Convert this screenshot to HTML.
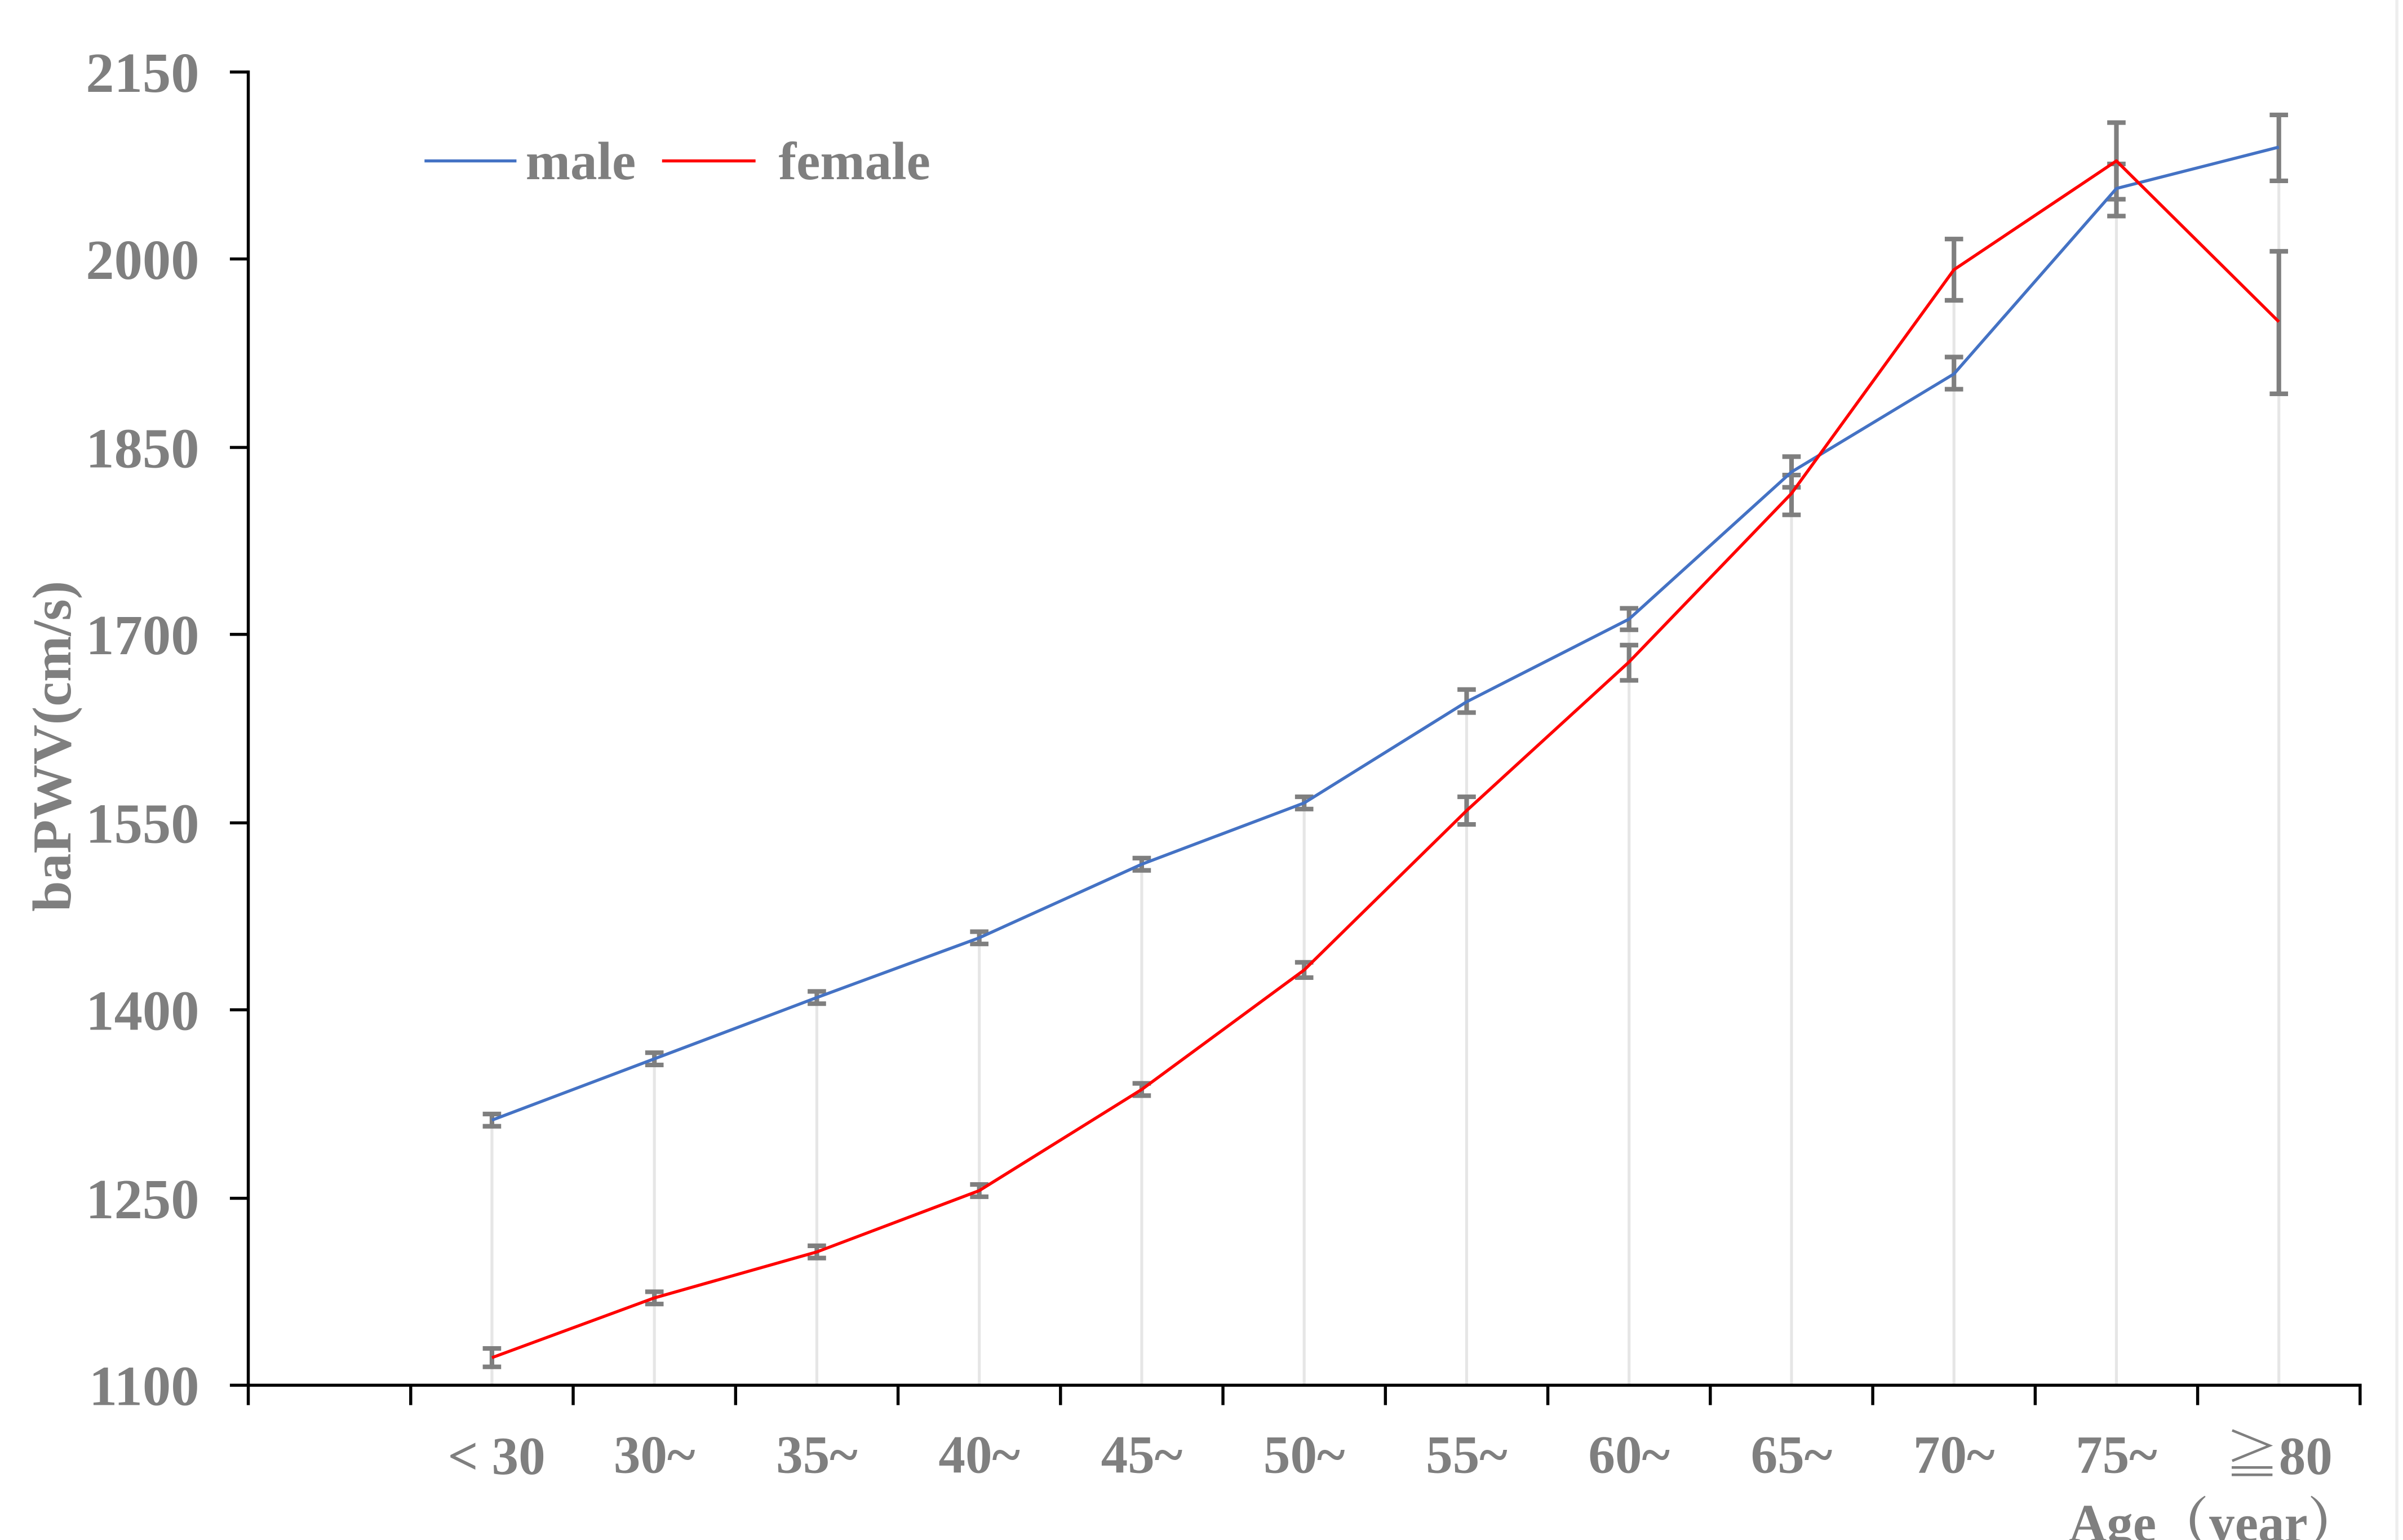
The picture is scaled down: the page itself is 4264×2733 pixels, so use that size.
<!DOCTYPE html>
<html><head><meta charset="utf-8"><style>html,body{margin:0;padding:0;background:#fff}svg{display:block}</style></head>
<body>
<svg xmlns="http://www.w3.org/2000/svg" width="4264" height="2733" viewBox="0 0 1568 1005">
<rect width="1568" height="1005" fill="#fff"/>
<line x1="1564" y1="0" x2="1564" y2="1005" stroke="#eeeeee" stroke-width="2"/>
<g stroke="#e6e6e6" stroke-width="1.9">
<line x1="321" y1="731" x2="321" y2="904"/>
<line x1="427" y1="691" x2="427" y2="904"/>
<line x1="533" y1="651" x2="533" y2="904"/>
<line x1="639" y1="612" x2="639" y2="904"/>
<line x1="745" y1="564" x2="745" y2="904"/>
<line x1="851" y1="524" x2="851" y2="904"/>
<line x1="957" y1="458" x2="957" y2="904"/>
<line x1="1063" y1="404" x2="1063" y2="904"/>
<line x1="1169" y1="308" x2="1169" y2="904"/>
<line x1="1275" y1="176" x2="1275" y2="904"/>
<line x1="1381" y1="105" x2="1381" y2="904"/>
<line x1="1487" y1="96" x2="1487" y2="904"/>
</g>
<g stroke="#7f7f7f" stroke-width="3" fill="none">
<path d="M321 727V735M315 727H327M315 735H327"/>
<path d="M427 687V695M421 687H433M421 695H433"/>
<path d="M533 647V655M527 647H539M527 655H539"/>
<path d="M639 608V616M633 608H645M633 616H645"/>
<path d="M745 560V568M739 560H751M739 568H751"/>
<path d="M851 520V528M845 520H857M845 528H857"/>
<path d="M957 450V465M951 450H963M951 465H963"/>
<path d="M1063 397V411M1057 397H1069M1057 411H1069"/>
<path d="M1169 298V318M1163 298H1175M1163 318H1175"/>
<path d="M1275 233V254M1269 233H1281M1269 254H1281"/>
<path d="M1381 107V141M1375 107H1387M1375 141H1387"/>
<path d="M1487 75V118M1481 75H1493M1481 118H1493"/>
<path d="M321 880V892M315 880H327M315 892H327"/>
<path d="M427 843V851M421 843H433M421 851H433"/>
<path d="M533 813V821M527 813H539M527 821H539"/>
<path d="M639 773V781M633 773H645M633 781H645"/>
<path d="M745 707V715M739 707H751M739 715H751"/>
<path d="M851 628V638M845 628H857M845 638H857"/>
<path d="M957 520V538M951 520H963M951 538H963"/>
<path d="M1063 421V444M1057 421H1069M1057 444H1069"/>
<path d="M1169 310V336M1163 310H1175M1163 336H1175"/>
<path d="M1275 156V196M1269 156H1281M1269 196H1281"/>
<path d="M1381 80V130M1375 80H1387M1375 130H1387"/>
<path d="M1487 164V257M1481 164H1493M1481 257H1493"/>
</g>
<polyline fill="none" stroke="#4472c4" stroke-width="2" stroke-linejoin="round" points="321,731 427,691 533,651 639,612 745,564 851,524 957,458 1063,404 1169,308 1275,244 1381,123 1487,96"/>
<polyline fill="none" stroke="#ff0000" stroke-width="2" stroke-linejoin="round" points="321,886 427,847 533,817 639,777 745,711 851,633 957,529 1063,432 1169,322 1275,176 1381,105 1487,210"/>
<g stroke="#000" stroke-width="2">
<line x1="162" y1="46" x2="162" y2="905"/>
<line x1="161" y1="904" x2="1541" y2="904"/>
<path d="M150 47H162M150 169H162M150 292H162M150 414H162M150 537H162M150 659H162M150 782H162M150 904H162"/>
<path d="M162 904V917M268 904V917M374 904V917M480 904V917M586 904V917M692 904V917M798 904V917M904 904V917M1010 904V917M1116 904V917M1222 904V917M1328 904V917M1434 904V917M1540 904V917"/>
</g>
<g font-family="'Liberation Serif','Noto Serif CJK SC',serif" font-weight="bold" fill="#7f7f7f" font-size="35">
<g text-anchor="end" font-size="37">
<text x="130" y="60">2150</text>
<text x="130" y="182">2000</text>
<text x="130" y="305">1850</text>
<text x="130" y="427">1700</text>
<text x="130" y="550">1550</text>
<text x="130" y="672">1400</text>
<text x="130" y="795">1250</text>
<text x="130" y="917">1100</text>
</g>
<g text-anchor="middle">
<text x="324" y="962">&lt; 30</text>
<text x="427" y="961">30~</text>
<text x="533" y="961">35~</text>
<text x="639" y="961">40~</text>
<text x="745" y="961">45~</text>
<text x="851" y="961">50~</text>
<text x="957" y="961">55~</text>
<text x="1063" y="961">60~</text>
<text x="1169" y="961">65~</text>
<text x="1275" y="961">70~</text>
<text x="1381" y="961">75~</text>
<text x="1487" y="962">≧80</text>
</g>
<text x="1350" y="1006" textLength="190" lengthAdjust="spacingAndGlyphs">Age（year）</text>
<text transform="translate(46,487) rotate(-90)" text-anchor="middle" font-size="36">baPWV(cm/s)</text>
<text x="343" y="117">male</text>
<text x="508" y="117">female</text>
</g>
<line x1="277" y1="105" x2="337" y2="105" stroke="#4472c4" stroke-width="2"/>
<line x1="432" y1="105" x2="493" y2="105" stroke="#ff0000" stroke-width="2"/>
</svg>
</body></html>
